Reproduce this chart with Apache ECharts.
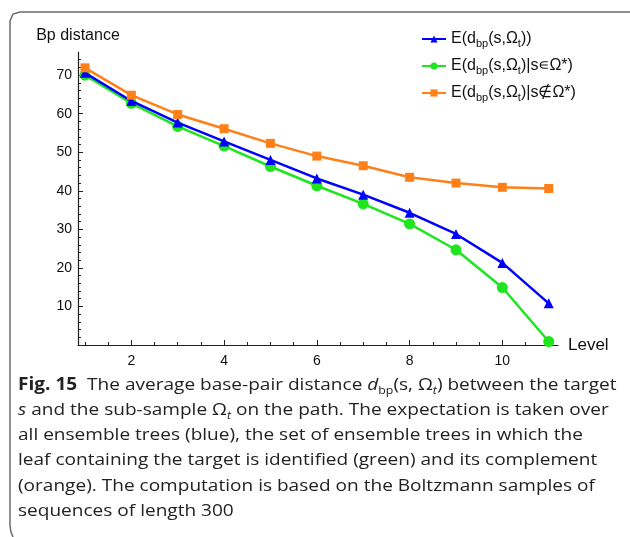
<!DOCTYPE html>
<html>
<head>
<meta charset="utf-8">
<script src="https://cdn.jsdelivr.net/npm/echarts@6/dist/echarts.min.js"></script>
<style>
  html, body { margin: 0; padding: 0; background: #ffffff; }
  #main { width: 630px; height: 537px; }
</style>
</head>
<body>
<div id="main"></div>
<script>
// data
var levels = [1, 2, 3, 4, 5, 6, 7, 8, 9, 10, 11];
var allTrees = [70.6, 63.3, 57.7, 52.8, 48.0, 43.2, 39.0, 34.3, 28.8, 21.3, 10.8];
var identified = [70.0, 62.7, 56.7, 51.6, 46.3, 41.3, 36.6, 31.4, 24.7, 14.9, 0.9];
var complement = [71.9, 64.8, 59.8, 56.1, 52.3, 49.0, 46.5, 43.5, 42.0, 40.9, 40.6];

var xLabels = [2, 4, 6, 8, 10];
var xMinorTicks = [1, 1.5, 2.5, 3, 3.5, 4.5, 5, 5.5, 6.5, 7, 7.5, 8.5, 9, 9.5, 10.5, 11];
var yLabels = [10, 20, 30, 40, 50, 60, 70];
var yMinorTicks = [2, 4, 6, 8, 12, 14, 16, 18, 22, 24, 26, 28, 32, 34, 36, 38, 42, 44, 46, 48, 52, 54, 56, 58, 62, 64, 66, 68, 72, 74];

var seriesNames = ["all", "in", "notin"];
var legendText = {
  all: "{n|E(d}{s|bp}{n|(s,Ω}{s|t}{n|))}",
  "in": "{n|E(d}{s|bp}{n|(s,Ω}{s|t}{n|)|s∊Ω*)}",
  notin: "{n|E(d}{s|bp}{n|(s,Ω}{s|t}{n|)|s∉Ω*)}"
};

var captionLines = [
  "{b|Fig. 15}  The average base-pair distance {i|d}{sub|bp}(s, Ω{isub|t}) between the target",
  "{i|s} and the sub-sample Ω{isub|t} on the path. The expectation is taken over",
  "all ensemble trees (blue), the set of ensemble trees in which the",
  "leaf containing the target is identified (green) and its complement",
  "(orange). The computation is based on the Boltzmann samples of",
  "sequences of length 300"
];

function pairs(ys) {
  var out = [];
  for (var i = 0; i < levels.length; i++) {
    out.push([levels[i], ys[i]]);
  }
  return out;
}

// caption squeeze (the print font is narrower than Open Sans)
var capFont = "17px 'Open Sans'";
var cv = document.createElement("canvas").getContext("2d");
cv.font = capFont;
var capScale = 0.98 * 591 / cv.measureText("leaf containing the target is identified (green) and its complement").width;

var capRich = {
  b: { fontWeight: "bold", fontSize: 17, fontFamily: "Open Sans", lineHeight: 22 },
  i: { fontStyle: "italic", fontSize: 17, fontFamily: "Open Sans", lineHeight: 22 },
  sub: { fontSize: 11, fontFamily: "Open Sans", lineHeight: 11, verticalAlign: "bottom" },
  isub: { fontSize: 11, fontStyle: "italic", fontFamily: "Open Sans", lineHeight: 11, verticalAlign: "bottom" }
};

var graphics = [
  {
    type: "polyline",
    shape: { points: [[630, 12], [20, 12], [13, 14], [10, 21], [10, 526], [11, 532], [13, 537]] },
    style: { stroke: "#6b6b6b", lineWidth: 1.5, fill: null },
    silent: true
  }
];
for (var k = 0; k < captionLines.length; k++) {
  graphics.push({
    type: "text",
    x: 18,
    y: 385 + k * 25.2,
    scaleX: capScale,
    style: {
      text: captionLines[k],
      rich: capRich,
      fontSize: 17,
      lineHeight: 22,
      fontFamily: "Open Sans",
      fill: "#222222",
      verticalAlign: "middle",
      align: "left"
    },
    silent: true
  });
}

var myChart = echarts.init(document.getElementById("main"), null, { renderer: "canvas" });
var option = {
  backgroundColor: "#ffffff",
  animation: false,
  textStyle: { fontFamily: "Liberation Sans" },
  grid: { left: 78, right: 72, top: 52, bottom: 192, containLabel: false },
  legend: {
    orient: "vertical",
    left: 416,
    top: 26,
    itemWidth: 24,
    itemHeight: 9,
    itemGap: 9,
    data: seriesNames,
    formatter: function(name) { return legendText[name]; },
    textStyle: {
      color: "#111",
      rich: {
        n: { fontSize: 16, fontFamily: "Liberation Sans", lineHeight: 20, color: "#111" },
        s: { fontSize: 11, fontFamily: "Liberation Sans", lineHeight: 10, verticalAlign: "bottom", color: "#111" }
      }
    }
  },
  xAxis: [
    {
      type: "value",
      min: 0.85,
      max: 11.2,
      name: "Level",
      nameLocation: "end",
      nameGap: 10,
      nameTextStyle: { fontSize: 17, color: "#111", fontFamily: "Liberation Sans" },
      axisLine: { onZero: false, lineStyle: { color: "#222", width: 1.2 } },
      axisTick: { show: true, inside: true, length: 5, customValues: xLabels, lineStyle: { color: "#222" } },
      axisLabel: { customValues: xLabels, color: "#111", fontSize: 14, fontFamily: "Liberation Sans", margin: 9 },
      splitLine: { show: false }
    },
    {
      type: "value",
      min: 0.85,
      max: 11.2,
      position: "bottom",
      axisLine: { show: false },
      axisTick: { show: true, inside: true, length: 3, customValues: xMinorTicks, lineStyle: { color: "#222" } },
      axisLabel: { show: false },
      splitLine: { show: false }
    }
  ],
  yAxis: [
    {
      type: "value",
      min: 0,
      max: 76,
      name: "Bp distance",
      nameLocation: "end",
      nameGap: 8,
      nameTextStyle: { fontSize: 16, color: "#111", fontFamily: "Liberation Sans" },
      axisLine: { show: true, onZero: false, lineStyle: { color: "#222", width: 1.2 } },
      axisTick: { show: true, inside: true, length: 5, customValues: yLabels, lineStyle: { color: "#222" } },
      axisLabel: { customValues: yLabels, color: "#111", fontSize: 14, fontFamily: "Liberation Sans", margin: 6 },
      splitLine: { show: false }
    },
    {
      type: "value",
      min: 0,
      max: 76,
      position: "left",
      axisLine: { show: false },
      axisTick: { show: true, inside: true, length: 3, customValues: yMinorTicks, lineStyle: { color: "#222" } },
      axisLabel: { show: false },
      splitLine: { show: false }
    }
  ],
  series: [
    {
      name: "all",
      type: "line",
      data: pairs(allTrees),
      symbol: "triangle",
      symbolSize: 10,
      lineStyle: { color: "#0000ff", width: 2.5 },
      itemStyle: { color: "#0000ff" },
      z: 3
    },
    {
      name: "in",
      type: "line",
      data: pairs(identified),
      symbol: "circle",
      symbolSize: 11,
      lineStyle: { color: "#1ee51e", width: 2.5 },
      itemStyle: { color: "#1ee51e" },
      z: 2
    },
    {
      name: "notin",
      type: "line",
      data: pairs(complement),
      symbol: "rect",
      symbolSize: 9,
      lineStyle: { color: "#ff8019", width: 2.5 },
      itemStyle: { color: "#ff8019" },
      z: 4
    }
  ],
  graphic: graphics
};
myChart.setOption(option);
</script>
</body>
</html>
